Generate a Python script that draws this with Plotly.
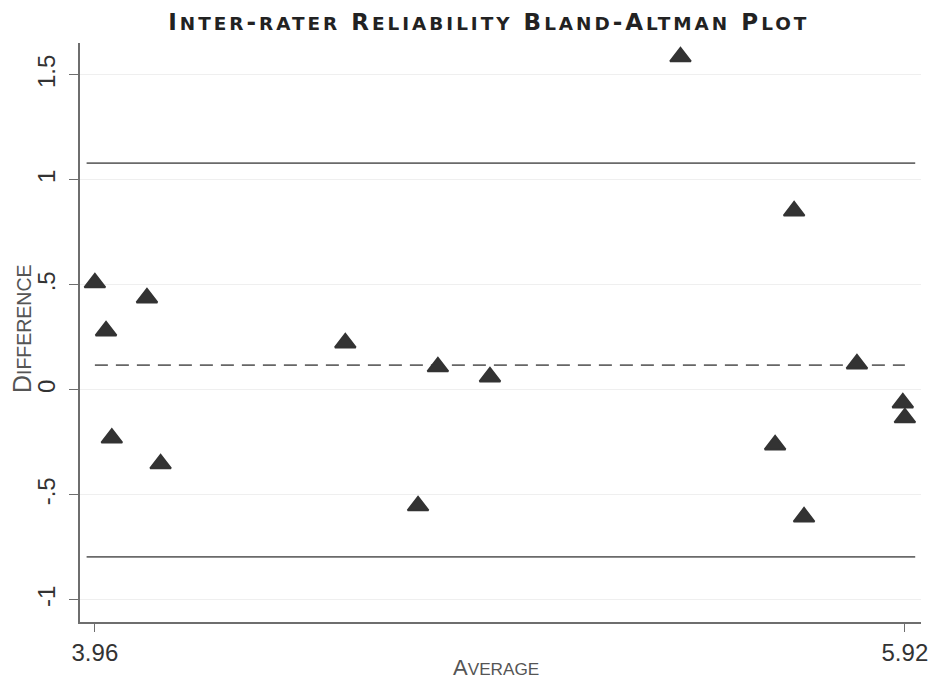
import plotly.graph_objects as go

# Bland-Altman data: mean of the two raters vs. their difference
average = [3.960, 3.987, 4.086, 4.001, 4.119, 4.566, 4.790, 4.916,
           4.742, 5.377, 5.652, 5.606, 5.676, 5.804, 5.915, 5.920]
difference = [0.510, 0.281, 0.438, -0.229, -0.352, 0.224, 0.110, 0.062,
              -0.552, 1.586, 0.852, -0.262, -0.605, 0.124, -0.062, -0.133]

mean_diff = 0.118
upper_loa = 1.080
lower_loa = -0.795
loa_span = [3.940, 5.945]
mean_span = [3.960, 5.920]

x_tickvals = [3.96, 5.92]
x_ticktext = ["3.96", "5.92"]
y_tickvals = [-1, -0.5, 0, 0.5, 1, 1.5]
y_ticktext = ["-1", "-.5", "0", ".5", "1", "1.5"]

TITLE = "Inter-rater Reliability Bland-Altman Plot"
X_TITLE = "Average"
Y_TITLE = "Difference"


def small_caps(text, size, ratio=0.78, spacing=0.0):
    """Render text as small caps using sized spans."""
    runs = []
    for ch in text:
        low = ch.islower()
        if runs and runs[-1][0] == low:
            runs[-1][1] += ch
        else:
            runs.append([low, ch])
    parts = []
    for low, chunk in runs:
        fs = size * ratio if low else size
        parts.append(
            f"<span style='font-size:{fs:.1f}px;letter-spacing:{spacing}px'>"
            f"{chunk.upper()}</span>"
        )
    return "".join(parts)


fig = go.Figure()

# limits of agreement
for level in (upper_loa, lower_loa):
    fig.add_trace(go.Scatter(
        x=loa_span, y=[level, level], mode="lines",
        line=dict(color="#6a6a6a", width=1.6),
        hoverinfo="skip", showlegend=False,
    ))

# mean difference
fig.add_trace(go.Scatter(
    x=mean_span, y=[mean_diff, mean_diff], mode="lines",
    line=dict(color="#666666", width=1.6, dash="13px,8px"),
    hoverinfo="skip", showlegend=False,
))

# observations
fig.add_trace(go.Scatter(
    x=average, y=difference, mode="markers",
    marker=dict(symbol="triangle-up", size=18, color="#333333",
                line=dict(color="#333333", width=2)),
    showlegend=False,
))

axis_color = "#6e6e6e"
tick_font = dict(family="Liberation Sans, Arial, sans-serif", size=24, color="#333333")

fig.update_xaxes(
    range=[3.924, 5.959],
    tickvals=x_tickvals, ticktext=x_ticktext,
    showline=True, linecolor=axis_color, linewidth=1.6,
    ticks="outside", ticklen=8, tickcolor=axis_color, tickwidth=1.4,
    showgrid=False, zeroline=False,
    tickfont=tick_font,
)
fig.update_yaxes(
    range=[-1.105, 1.652],
    tickvals=y_tickvals, ticktext=y_ticktext,
    showline=True, linecolor=axis_color, linewidth=1.6,
    ticks="outside", ticklen=9, tickcolor=axis_color, tickwidth=1.4,
    showgrid=True, gridcolor="#efefef", gridwidth=1.2,
    zeroline=False, tickangle=-90, ticklabelstandoff=5,
    tickfont=tick_font,
)

fig.add_annotation(
    text=small_caps(X_TITLE, 22), xref="paper", yref="paper",
    x=0.4947, y=0, yshift=-45, xanchor="center", yanchor="middle",
    showarrow=False,
    font=dict(family="Liberation Sans, Arial, sans-serif", size=22, color="#555555"),
)
fig.add_annotation(
    text=small_caps(Y_TITLE, 25), xref="paper", yref="paper",
    x=0, xshift=-58, y=0.506, xanchor="center", yanchor="middle",
    textangle=-90, showarrow=False,
    font=dict(family="Liberation Sans, Arial, sans-serif", size=25, color="#555555"),
)

fig.update_layout(
    width=940, height=688,
    margin=dict(l=80, r=17, t=43, b=66),
    paper_bgcolor="white", plot_bgcolor="white",
    title=dict(
        text=small_caps(TITLE, 23, ratio=0.8, spacing=3),
        x=0.52, xref="container", xanchor="center",
        y=0.968, yref="container", yanchor="middle",
        font=dict(family="DejaVu Sans", size=23, color="#222222", weight="bold"),
    ),
)

fig.write_html("out.html")
